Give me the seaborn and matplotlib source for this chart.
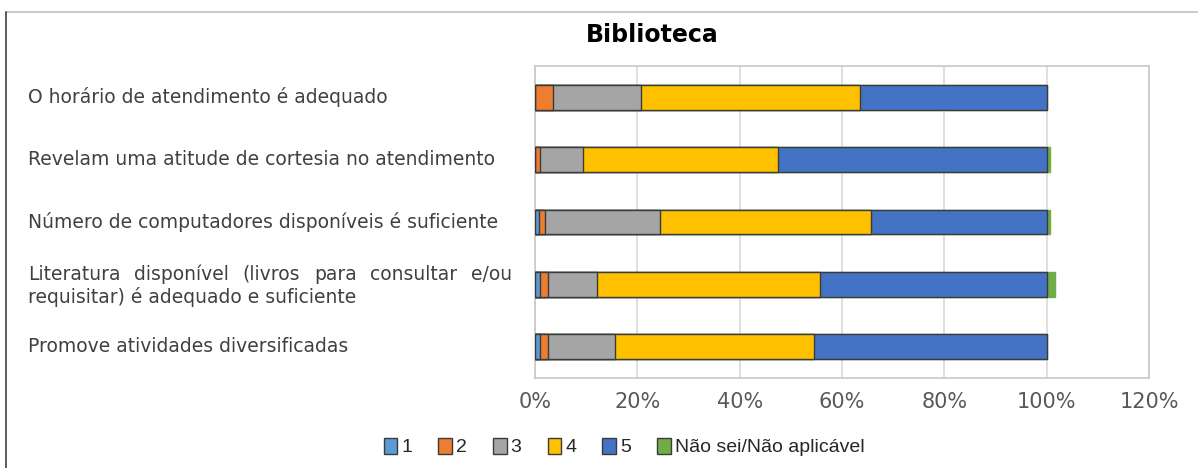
import numpy as np
import pandas as pd
import matplotlib
matplotlib.use("Agg")
import matplotlib.pyplot as plt
import matplotlib.transforms as mtransforms
from matplotlib.patches import Patch
import seaborn as sns

# Data (percent of answers per item)
items = [
    "O horário de atendimento é adequado",
    "Revelam uma atitude de cortesia no atendimento",
    "Número de computadores disponíveis é suficiente",
    "Literatura disponível (livros para consultar e/ou requisitar) é adequado e suficiente",
    "Promove atividades diversificadas",
]
answers = ["1", "2", "3", "4", "5", "Não sei/Não aplicável"]
r1 = [0.0, 0.0, 0.7, 0.9, 0.9]
r2 = [3.5, 0.9, 1.2, 1.7, 1.7]
r3 = [17.3, 8.5, 22.5, 9.5, 13.0]
r4 = [42.7, 38.0, 41.2, 43.6, 39.0]
r5 = [36.5, 52.6, 34.4, 44.3, 45.4]
r_ns = [0.0, 0.7, 0.7, 1.6, 0.0]
colors = ["#5B9BD5", "#ED7D31", "#A5A5A5", "#FFC000", "#4472C4", "#70AD47"]

sns.set_theme(style="white")
plt.rcParams["font.family"] = ["DejaVu Sans"]

fig = plt.figure(figsize=(11.98, 4.68), dpi=100)
ax = fig.add_axes([535 / 1198, 90 / 468, 614 / 1198, 312 / 468])

series = [r1, r2, r3, r4, r5, r_ns]
cum = np.cumsum(np.array(series), axis=0)

# draw cumulative totals from largest to smallest so each segment shows
for k in range(len(series) - 1, -1, -1):
    df = pd.DataFrame({"item": items, "value": cum[k]})
    ec = colors[k] if k == 5 else "#3a3a3a"
    sns.barplot(data=df, x="value", y="item", order=items, orient="h",
                color=colors[k], edgecolor=ec, linewidth=1.0,
                width=0.4, saturation=1, ax=ax, zorder=3)

ax.set_xlim(0, 120)
ax.set_ylim(4.5, -0.5)
ax.set_xticks(np.arange(0, 121, 20))
ax.set_xticklabels([f"{t}%" for t in range(0, 121, 20)], fontsize=15, color="#595959")
ax.tick_params(axis="x", length=0, pad=10)
ax.set_yticks([])
ax.set_xlabel("")
ax.set_ylabel("")
ax.grid(axis="x", color="#D9D9D9", linewidth=1.2, zorder=0)
for s in ax.spines.values():
    s.set_color("#C8C8C8")
    s.set_linewidth(1.2)

# left aligned item labels
lab_size = 13.5
trans = mtransforms.blended_transform_factory(fig.transFigure, ax.transData)
x0 = 28 / 1198
for i, lab in enumerate(items):
    if i == 3:
        continue
    fig.text(x0, i, lab, transform=trans, ha="left", va="center",
             fontsize=lab_size, color="#404040")

# justified two-line label
fig.canvas.draw()
renderer = fig.canvas.get_renderer()
line1 = "Literatura disponível (livros para consultar e/ou".split()
x_right = 512
ws = []
for w in line1:
    t = fig.text(0, 0, w, fontsize=lab_size)
    ws.append(t.get_window_extent(renderer).width)
    t.remove()
gap = (x_right - 28 - sum(ws)) / (len(line1) - 1)
xp = 28
for w, wd in zip(line1, ws):
    fig.text(xp / 1198, 3 - 0.16, w, transform=trans, ha="left", va="center",
             fontsize=lab_size, color="#404040")
    xp += wd + gap
fig.text(x0, 3 + 0.2, "requisitar) é adequado e suficiente", transform=trans,
         ha="left", va="center", fontsize=lab_size, color="#404040")

# title
fig.text(652 / 1198, 1 - 35 / 468, "Biblioteca", ha="center", va="center",
         fontsize=17, fontweight="bold", color="#000000")

# legend
handles = [Patch(facecolor=c, edgecolor="#3a3a3a", linewidth=1.0) for c in colors]
fig.legend(handles, answers, loc="center", bbox_to_anchor=(624 / 1198, 1 - 447 / 468),
           ncol=6, frameon=False, handlelength=0.7, handleheight=0.9,
           handletextpad=0.2, columnspacing=1.35,
           prop={"family": "Liberation Sans", "size": 14})

# outer frame lines
fig.add_artist(plt.Line2D([6 / 1198, 1], [1 - 12 / 468, 1 - 12 / 468],
                          transform=fig.transFigure, color="#C0C0C0", linewidth=1.2))
fig.add_artist(plt.Line2D([6 / 1198, 6 / 1198], [0, 1 - 12 / 468],
                          transform=fig.transFigure, color="#404040", linewidth=1.2))

fig.savefig("out.png", dpi=100)
